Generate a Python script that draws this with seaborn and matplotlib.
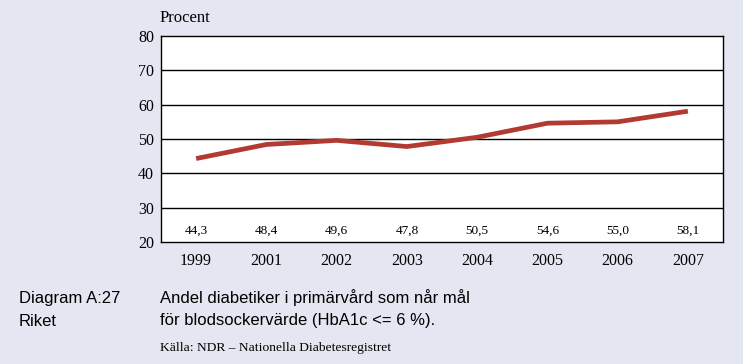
import numpy as np
import matplotlib
matplotlib.use("Agg")
import matplotlib.pyplot as plt
import seaborn as sns
import pandas as pd

sns.set_style("white")
plt.rcParams["text.color"] = "black"

years = ["1999", "2001", "2002", "2003", "2004", "2005", "2006", "2007"]
andel = [44.3, 48.4, 49.6, 47.8, 50.5, 54.6, 55.0, 58.1]
etiketter = ["44,3", "48,4", "49,6", "47,8", "50,5", "54,6", "55,0", "58,1"]
yticks = [20, 30, 40, 50, 60, 70, 80]

bg = "#e4e7f1"
red = "#b23a30"
serif = ["Liberation Serif", "DejaVu Serif"]
sans = ["Liberation Sans", "DejaVu Sans"]

df = pd.DataFrame({"year": years, "andel": andel})

fig = plt.figure(figsize=(7.43, 3.64), dpi=100, facecolor=bg)
ax = fig.add_axes([0.2167, 0.3352, 0.7564, 0.5659])
ax.set_facecolor("white")

sns.lineplot(data=df, x="year", y="andel", ax=ax, color=red, linewidth=3.4,
             solid_capstyle="butt", zorder=3)

ax.set_xlim(-0.5, len(years) - 0.5)
ax.set_ylim(20, 80)
ax.set_yticks(yticks)
ax.set_yticklabels([str(t) for t in yticks], fontfamily=serif, fontsize=11.5)
ax.set_xticks(range(len(years)))
ax.set_xticklabels(years, fontfamily=serif, fontsize=11.5)
ax.tick_params(axis="y", length=0, pad=5, colors="black")
ax.tick_params(axis="x", length=0, pad=8, colors="black")
ax.set_xlabel("")
ax.set_ylabel("")

for t in yticks[1:-1]:
    ax.axhline(t, color="black", linewidth=1.0, zorder=1)
for s in ax.spines.values():
    s.set_color("black")
    s.set_linewidth(1.0)

for i, lab in enumerate(etiketter):
    ax.text(i, 23.3, lab, ha="center", va="center", fontsize=9.5,
            fontfamily=serif)

fig.text(160 / 743, 1 - 18 / 364, "Procent", ha="left", va="center",
         fontsize=12, fontfamily=serif)

fig.text(19 / 743, 1 - 298 / 364, "Diagram A:27", ha="left", va="center",
         fontsize=12, fontfamily=sans)
fig.text(19 / 743, 1 - 321 / 364, "Riket", ha="left", va="center",
         fontsize=12, fontfamily=sans)
fig.text(160 / 743, 1 - 298 / 364, "Andel diabetiker i primärvård som når mål",
         ha="left", va="center", fontsize=12, fontfamily=sans)
fig.text(160 / 743, 1 - 321 / 364, "för blodsockervärde (HbA1c <= 6 %).",
         ha="left", va="center", fontsize=12, fontfamily=sans)
fig.text(160 / 743, 1 - 348 / 364, "Källa: NDR – Nationella Diabetesregistret",
         ha="left", va="center", fontsize=9.7, fontfamily=serif)

fig.savefig("out.png", dpi=100, facecolor=bg)
